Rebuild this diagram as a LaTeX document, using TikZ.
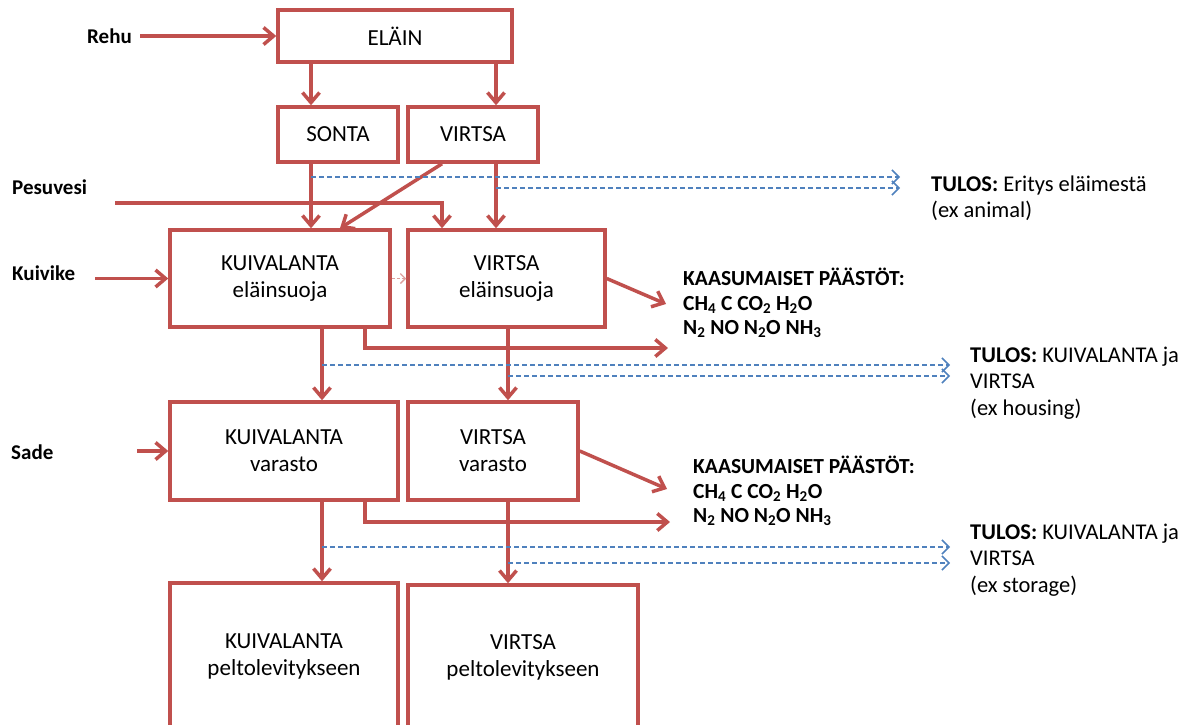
\documentclass[tikz,border=0pt]{standalone}
\usepackage{fontspec}
\setmainfont{Carlito}
\usetikzlibrary{arrows.meta,calc}
\definecolor{rd}{HTML}{C0504D}
\definecolor{bl}{HTML}{4F81BD}
\begin{document}
\begin{tikzpicture}[x=1pt,y=-1pt,
  box/.style={draw=rd,line width=3.5pt,rectangle,inner sep=0pt,align=center,font=\fontsize{23}{27}\selectfont},
  lbl/.style={anchor=west,inner sep=0pt,font=\fontsize{21}{26}\selectfont\bfseries},
  emis/.style={anchor=west,inner sep=0pt,align=left,font=\fontsize{21.5}{24.5}\selectfont\bfseries},
  res/.style={anchor=west,inner sep=0pt,align=left,font=\fontsize{22.5}{26.5}\selectfont},
  rarr/.style={draw=rd,line width=3.5pt,-{Straight Barb[length=10pt,width=17pt]}},
  barr/.style={draw=bl,line width=1.5pt,dash pattern=on 5pt off 3pt,-{Straight Barb[length=7pt,width=14pt]}},
  parr/.style={draw=rd!55,line width=1.3pt,dash pattern=on 3pt off 2pt,-{Straight Barb[length=5pt,width=10pt]}}
]
\useasboundingbox (0,0) rectangle (1190,724);
\clip (0,0) rectangle (1190,724);

% boxes
\node[box,minimum width=234pt,minimum height=52pt] (elain) at (395,36) {ELÄIN};
\node[box,minimum width=120pt,minimum height=55pt] (sonta) at (338,134.5) {SONTA};
\node[box,minimum width=130pt,minimum height=55pt] (virtsa) at (473,134.5) {VIRTSA};
\node[box,minimum width=220pt,minimum height=97pt] (kuivE) at (280,278.5) {KUIVALANTA\\eläinsuoja};
\node[box,minimum width=197pt,minimum height=97pt] (virtsaE) at (506.5,278.5) {VIRTSA\\eläinsuoja};
\node[box,minimum width=228pt,minimum height=98pt] (kuivV) at (284,451) {KUIVALANTA\\varasto};
\node[box,minimum width=170pt,minimum height=98pt] (virtsaV) at (493,451) {VIRTSA\\varasto};
\node[box,minimum width=228pt,minimum height=146pt] (kuivP) at (284,656) {KUIVALANTA\\peltolevitykseen};
\node[box,minimum width=230pt,minimum height=144pt] (virtsaP) at (523,657) {VIRTSA\\peltolevitykseen};

% left labels
\node[lbl] (rehu) at (87,36) {Rehu};
\node[lbl] (pesuvesi) at (12,187) {Pesuvesi};
\node[lbl] (kuivike) at (12,273) {Kuivike};
\node[lbl] (sade) at (11,452) {Sade};

% emissions
\node[emis] (em1) at (683,303) {KAASUMAISET PÄÄSTÖT:\\CH\textsubscript{4} C CO\textsubscript{2} H\textsubscript{2}O\\N\textsubscript{2} NO N\textsubscript{2}O NH\textsubscript{3}};
\node[emis] (em2) at (693,491) {KAASUMAISET PÄÄSTÖT:\\CH\textsubscript{4} C CO\textsubscript{2} H\textsubscript{2}O\\N\textsubscript{2} NO N\textsubscript{2}O NH\textsubscript{3}};

% results
\node[res] (tulos1) at (931,198) {\textbf{TULOS:} Eritys eläimestä\\(ex animal)};
\node[res] (tulos2) at (970,383) {\textbf{TULOS:} KUIVALANTA ja\\VIRTSA\\(ex housing)};
\node[res] (tulos3) at (970,560) {\textbf{TULOS:} KUIVALANTA ja\\VIRTSA\\(ex storage)};

% helper coordinates
\coordinate (xa) at (311,0);
\coordinate (xb) at (496,0);
\coordinate (xc) at (442,0);
\coordinate (xd) at (322,0);
\coordinate (xe) at (365,0);
\coordinate (xf) at (508,0);
\coordinate (xg) at (340,0);
\coordinate (pes) at (115,203);
\coordinate (kv) at (95,278.5);
\coordinate (sd) at (137,451);
\coordinate (e1tip) at (666,304);
\coordinate (e1b) at (668,348);
\coordinate (e2tip) at (667,489);
\coordinate (e2b) at (670,522);

% red connectors
\draw[rarr] ([xshift=8pt]rehu.east) -- (elain.west);
\draw[rarr] (elain.south -| xa) -- (sonta.north -| xa);
\draw[rarr] (elain.south -| xb) -- (virtsa.north -| xb);
\draw[rarr] (sonta.south -| xa) -- (kuivE.north -| xa);
\draw[rarr] (virtsa.south -| xc) -- (kuivE.north -| xg);
\draw[rarr] (virtsa.south -| xb) -- (virtsaE.north -| xb);
\draw[rarr] (pes) -| (virtsaE.north -| xc);
\draw[rarr] (kv) -- (kuivE.west);
\draw[parr] (kuivE.east) -- (virtsaE.west);
\draw[rarr] (virtsaE.east) -- (e1tip);
\draw[rarr] (kuivE.south -| xe) |- (e1b);
\draw[rarr] (kuivE.south -| xd) -- (kuivV.north -| xd);
\draw[rarr] (virtsaE.south -| xf) -- (virtsaV.north -| xf);
\draw[rarr] (sd) -- (kuivV.west);
\draw[rarr] (virtsaV.east) -- (e2tip);
\draw[rarr] (kuivV.south -| xe) |- (e2b);
\draw[rarr] (kuivV.south -| xd) -- (kuivP.north -| xd);
\draw[rarr] (virtsaV.south -| xf) -- (virtsaP.north -| xf);

% blue dashed connectors
\coordinate (d1a) at (311,177); \coordinate (d1b) at (900,177);
\coordinate (d2a) at (496,188); \coordinate (d2b) at (900,188);
\coordinate (d3a) at (322,365); \coordinate (d3b) at (950,365);
\coordinate (d4a) at (508,376); \coordinate (d4b) at (950,376);
\coordinate (d5a) at (322,547); \coordinate (d5b) at (950,547);
\coordinate (d6a) at (508,563); \coordinate (d6b) at (950,563);
\draw[barr] (d1a) -- (d1b);
\draw[barr] (d2a) -- (d2b);
\draw[barr] (d3a) -- (d3b);
\draw[barr] (d4a) -- (d4b);
\draw[barr] (d5a) -- (d5b);
\draw[barr] (d6a) -- (d6b);
\end{tikzpicture}
\end{document}
